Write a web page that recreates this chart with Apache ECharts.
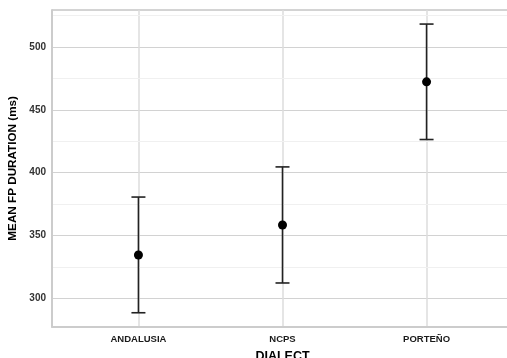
<!DOCTYPE html>
<html>
<head>
<meta charset="utf-8">
<script src="https://cdn.jsdelivr.net/npm/echarts@6/dist/echarts.min.js"></script>
<style>html,body{margin:0;padding:0;background:#fff}#c{width:507px;height:358px}</style>
</head>
<body>
<div id="c"></div>
<script>
const categories = ['ANDALUSIA', 'NCPS', 'PORTEÑO'];
const means = [334.5, 358.4, 472.3];
const lowers = [288.5, 312.2, 426.4];
const uppers = [380.6, 404.6, 518.3];
const yTicks = [300, 350, 400, 450, 500];
const yMinor = [325, 375, 425, 475, 525];

const positions = categories.map((c, i) => i + 1);
const font = '"Liberation Sans", Arial, Helvetica, sans-serif';

const chart = echarts.init(document.getElementById('c'), null, {renderer: 'canvas'});
chart.setOption({
  animation: false,
  backgroundColor: '#ffffff',
  grid: {left: 52, top: 10, width: 461, height: 316.7, containLabel: false, outerBoundsMode: 'none',
    show: true, borderColor: '#a8a8a8', borderWidth: 1, backgroundColor: 'transparent'},
  xAxis: {
    type: 'value', min: 0.4, max: 3.6,
    name: 'DIALECT', nameLocation: 'middle', nameGap: 20,
    nameTextStyle: {fontFamily: font, fontWeight: 'bold', fontSize: 12.5, color: '#000'},
    axisLine: {show: true, onZero: false, lineStyle: {color: '#cccccc', width: 2}},
    axisTick: {show: false, customValues: positions},
    axisLabel: {customValues: positions, margin: 8, fontFamily: font, fontWeight: 'bold', fontSize: 9.5, color: '#1a1a1a',
      formatter: v => categories[Math.round(v) - 1] || ''},
    splitLine: {show: true, lineStyle: {color: '#dcdcdc', width: 1.5}}
  },
  yAxis: {
    type: 'value', min: 277.4, max: 529.5,
    name: 'MEAN FP DURATION (ms)', nameLocation: 'middle', nameGap: 28,
    nameTextStyle: {fontFamily: font, fontWeight: 'bold', fontSize: 11.7, color: '#000'},
    axisLine: {show: true, lineStyle: {color: '#cccccc', width: 2}},
    axisTick: {show: false, customValues: yTicks},
    axisLabel: {customValues: yTicks, margin: 6, fontFamily: font, fontWeight: 'bold', fontSize: 10, color: '#333'},
    splitLine: {show: true, lineStyle: {color: '#d2d2d2', width: 1}}
  },
  series: [
    {
      type: 'line', data: [], silent: true, z: 0,
      markLine: {silent: true, symbol: 'none', label: {show: false}, z: 0, zlevel: 0,
        lineStyle: {color: '#f0f0f0', width: 1, type: 'solid'},
        data: yMinor.map(v => ({yAxis: v}))}
    },
    {
      type: 'custom',
      data: positions.map((p, i) => [p, lowers[i], uppers[i]]),
      renderItem: function (params, api) {
        const x = api.value(0);
        const lo = api.coord([x, api.value(1)]);
        const hi = api.coord([x, api.value(2)]);
        const hw = 7;
        const st = {stroke: '#222', lineWidth: 1.6};
        return {type: 'group', children: [
          {type: 'line', shape: {x1: lo[0], y1: lo[1], x2: hi[0], y2: hi[1]}, style: st},
          {type: 'line', shape: {x1: lo[0] - hw, y1: lo[1], x2: lo[0] + hw, y2: lo[1]}, style: st},
          {type: 'line', shape: {x1: hi[0] - hw, y1: hi[1], x2: hi[0] + hw, y2: hi[1]}, style: st}
        ]};
      },
      z: 6
    },
    {
      type: 'scatter', symbol: 'circle', symbolSize: 9,
      itemStyle: {color: '#000', opacity: 1},
      data: positions.map((p, i) => [p, means[i]]),
      z: 7
    }
  ]
});
</script>
</body>
</html>
